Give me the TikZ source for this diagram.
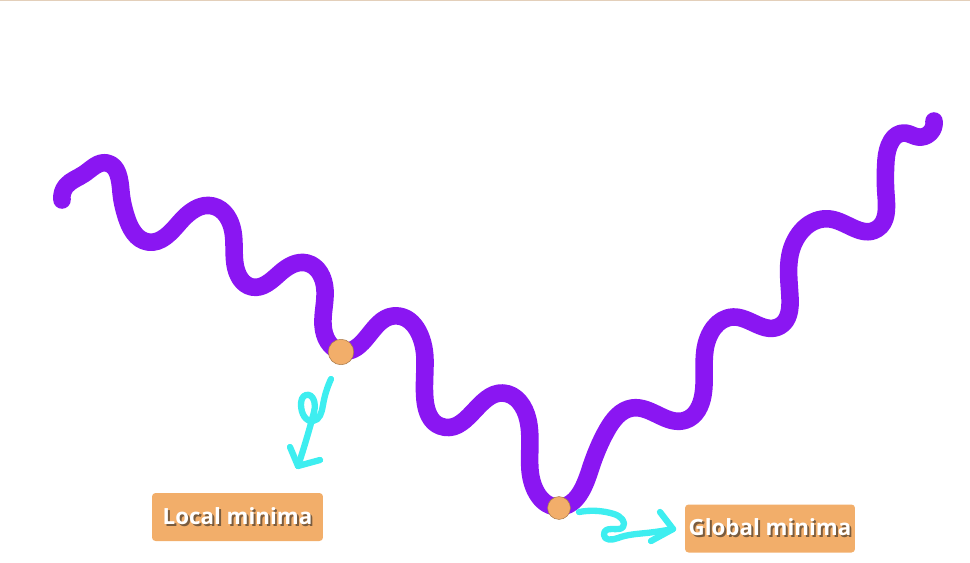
\documentclass[tikz,border=0pt]{standalone}
\usepackage{fontspec}
\setmainfont{Open Sans}
\usepackage{tikz}
\usetikzlibrary{hobby}

\definecolor{wavepurple}{HTML}{8A16F2}
\definecolor{dotorange}{HTML}{F2AE6A}
\definecolor{arrowcyan}{HTML}{3EEEF0}
\definecolor{shadowbrown}{HTML}{7A5C3E}
\definecolor{topline}{HTML}{E3CFBA}

\newcommand{\shadowtext}[1]{\makebox[0pt][l]{\raisebox{-1.1pt}{\hspace{1.1pt}\textcolor{shadowbrown}{#1}}}\textcolor{white}{#1}}

\tikzset{
  wave/.style={wavepurple, line width=10pt, line cap=round, line join=round},
  minimumdot/.style={circle, fill=dotorange, draw=dotorange!70!black, line width=0.3pt, inner sep=0pt, minimum size=14.5pt},
  handarrow/.style={arrowcyan, line width=3.6pt, line cap=round, line join=round},
  labelbox/.style={fill=dotorange, rounded corners=2pt, minimum height=0.96cm, inner sep=0pt, font=\bfseries\fontsize{12.7}{15}\selectfont}
}

\begin{document}
\begin{tikzpicture}[x=0.02cm,y=-0.02cm]
        \useasboundingbox (0,0) rectangle (970,562);
        \draw[topline, line width=0.8pt] (0,0.7) -- (970,0.7);

        % the wavy cost curve
        \draw[wave, use Hobby shortcut] (62,200) .. (66,186) .. (84,174) .. (107,163) .. (121,192) .. (126,216) .. (148,242)
            .. (180,222) .. (213,206) .. (233,232) .. (235,264) .. (252,287)
            .. (280,273) .. (307,263) .. (325,290) .. (323,325) .. (341,351)
            .. (393,316) .. (425,360) .. (425,400) .. (440,426)
            .. (503,393) .. (528,420) .. (530,470) .. (559,507)
            .. (590,470) .. (607,430) .. (632,408)
            .. (686,420) .. (703,395) .. (705,350) .. (733,317)
            .. (780,326) .. (790,298) .. (790,255) .. (830,219)
            .. (877,229) .. (886,195) .. (886,160) .. (905,133) .. (918,137) .. (934,121);

        % minima
        \node[minimumdot] (localmin) at (341,352) {};
        \node[minimumdot, minimum size=13pt] (globalmin) at (559,508) {};

        % labels
        \node[labelbox, minimum width=3.42cm] (locallabel) at (237.5,517) {\shadowtext{Local minima}};
        \node[labelbox, minimum width=3.40cm] (globallabel) at (770,528.5) {\shadowtext{Global minima}};

        % hand drawn arrows
        \coordinate (la) at (331,379);
        \coordinate (lt) at (298,466);
        \draw[handarrow, use Hobby shortcut] (la) .. (323,405) .. (313,421) .. (301,405) .. (306,395) .. (314,412) .. (lt);
        \draw[handarrow] (290,447) -- (lt) -- (320,460);

        \coordinate (ga) at (579,512);
        \coordinate (gt) at (673,529);
        \draw[handarrow, use Hobby shortcut] (ga) .. (614,514) .. (623,527) .. (604,535) .. (618,538) .. (646,533) .. (gt);
        \draw[handarrow] (660,512) -- (gt) -- (651,541);
    \end{tikzpicture}
\end{document}
